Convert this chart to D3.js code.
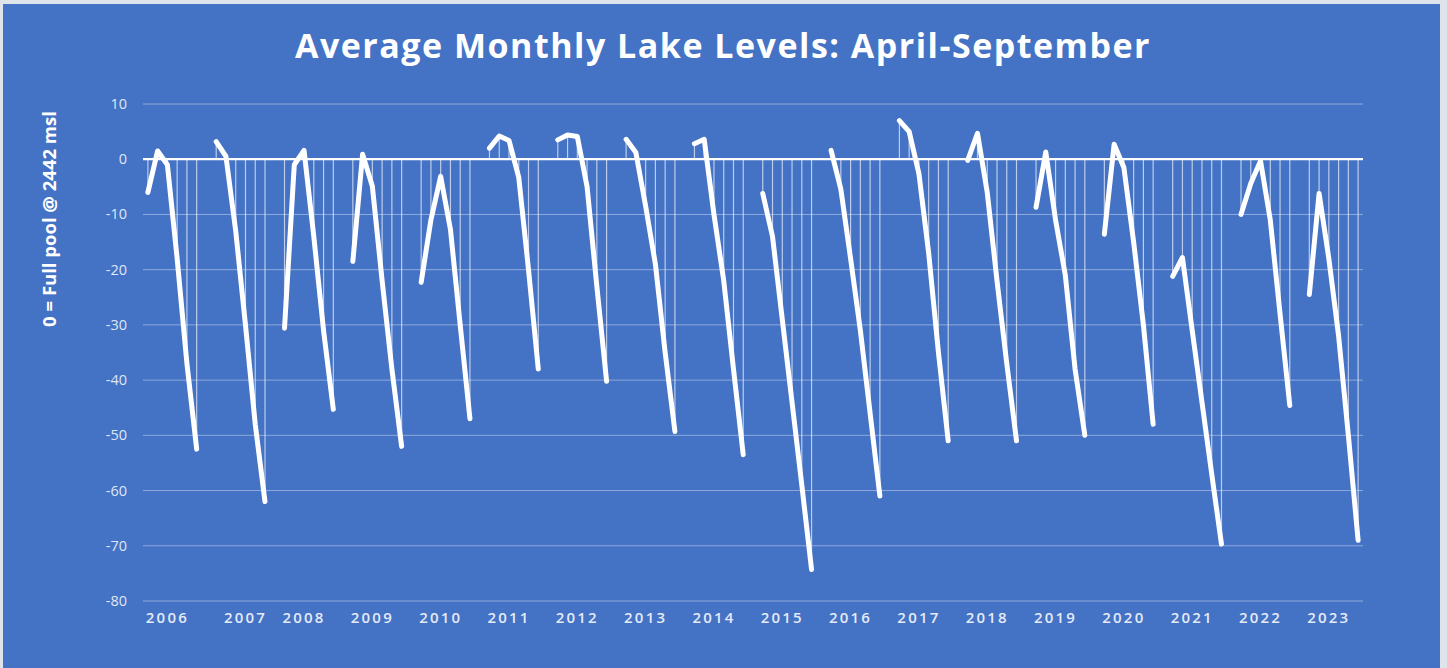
<!DOCTYPE html>
<html>
<head>
<meta charset="utf-8">
<script src="https://cdn.jsdelivr.net/npm/d3@7"></script>
<style>
  body { margin: 0; background: #dfe3ea; }
  svg { display: block; }
</style>
</head>
<body>
<script>
(function(){

//chart data: one row of April-September averages per year (feet below full pool)
var years = [2006, 2007, 2008, 2009, 2010, 2011, 2012, 2013, 2014,
             2015, 2016, 2017, 2018, 2019, 2020, 2021, 2022, 2023];

var months = ["Apr", "May", "Jun", "Jul", "Aug", "Sep"];

var levels = [
    [-6.0, 1.5, -1.0, -18.0, -37.0, -52.5],   //2006
    [3.2, 0.5, -13.0, -30.0, -48.0, -62.0],   //2007
    [-30.6, -1.0, 1.6, -14.0, -31.0, -45.3],  //2008
    [-18.5, 0.9, -4.9, -22.0, -38.0, -52.0],  //2009
    [-22.3, -11.0, -3.1, -12.7, -30.0, -47.0],//2010
    [2.0, 4.2, 3.4, -3.3, -20.0, -38.0],      //2011
    [3.5, 4.4, 4.1, -5.0, -23.0, -40.2],      //2012
    [3.6, 1.2, -8.5, -19.0, -35.0, -49.3],    //2013
    [2.8, 3.6, -10.0, -22.0, -38.0, -53.5],   //2014
    [-6.2, -14.0, -29.0, -44.0, -59.0, -74.3],//2015
    [1.6, -5.4, -18.0, -31.0, -46.0, -61.0],  //2016
    [7.0, 5.0, -2.6, -17.0, -35.0, -51.0],    //2017
    [-0.2, 4.7, -6.0, -22.0, -37.0, -51.0],   //2018
    [-8.7, 1.3, -11.0, -21.0, -38.0, -50.0],  //2019
    [-13.6, 2.7, -1.5, -15.0, -30.0, -48.0],  //2020
    [-21.2, -17.8, -31.0, -44.0, -57.0, -69.7],//2021
    [-10.0, -4.4, -0.3, -11.0, -28.0, -44.6], //2022
    [-24.5, -6.2, -18.0, -32.0, -50.0, -69.0] //2023
];

//month row on which each year's label sits
var labelSlot = [2, 3, 2, 2, 2, 2, 2, 2, 2, 2, 2, 2, 2, 2, 2, 2, 2, 2];

var yTicks = [10, 0, -10, -20, -30, -40, -50, -60, -70, -80];

var slotsPerYear = 7; //six months plus one empty separator slot

window.onload = drawChart();

function drawChart(){

    var width = 1447,
        height = 668;

    var svg = d3.select("body")
        .append("svg")
        .attr("width", width)
        .attr("height", height);

    //chart background
    svg.append("rect")
        .attr("x", 3)
        .attr("y", 4)
        .attr("width", 1437)
        .attr("height", 664)
        .attr("fill", "#4472c4");

    //category scale: 7 slots per year, last year without trailing gap
    var nSlots = years.length * slotsPerYear - 1;
    var x = d3.scaleBand()
        .domain(d3.range(nSlots))
        .range([143, 1363])
        .padding(0);

    var y = d3.scaleLinear()
        .domain([-80, 10])
        .range([601, 104]);

    function cx(yearIdx, monthIdx){
        return x(yearIdx * slotsPerYear + monthIdx) + x.bandwidth() / 2;
    };

    //title
    svg.append("text")
        .attr("x", 723)
        .attr("y", 58)
        .attr("text-anchor", "middle")
        .attr("fill", "#ffffff")
        .style("font-family", "'Open Sans', sans-serif")
        .style("font-weight", "700")
        .style("font-size", "34px")
        .style("letter-spacing", "1.5px")
        .text("Average Monthly Lake Levels: April-September");

    //y axis title
    svg.append("text")
        .attr("transform", "translate(56,219) rotate(-90)")
        .attr("text-anchor", "middle")
        .attr("fill", "#ffffff")
        .style("font-family", "'Open Sans', sans-serif")
        .style("font-weight", "700")
        .style("font-size", "18.5px")
        .text("0 = Full pool @ 2442 msl");

    //horizontal gridlines
    svg.selectAll(".grid")
        .data(yTicks.filter(function(d){ return d !== 0; }))
        .enter()
        .append("line")
        .attr("class", "grid")
        .attr("x1", 143)
        .attr("x2", 1363)
        .attr("y1", function(d){ return y(d); })
        .attr("y2", function(d){ return y(d); })
        .attr("stroke", "#8faadc")
        .attr("stroke-width", 1);

    //y tick labels
    svg.selectAll(".ytick")
        .data(yTicks)
        .enter()
        .append("text")
        .attr("class", "ytick")
        .attr("x", 127)
        .attr("y", function(d){ return y(d) + 5; })
        .attr("text-anchor", "end")
        .attr("fill", "#dfe6f4")
        .style("font-family", "'Open Sans', sans-serif")
        .style("font-size", "14.5px")
        .text(function(d){ return d; });

    //flatten points for drop lines
    var points = [];
    levels.forEach(function(row, i){
        row.forEach(function(v, m){
            points.push({year: i, month: m, value: v});
        });
    });

    //drop lines from each point to the zero axis
    svg.selectAll(".drop")
        .data(points)
        .enter()
        .append("line")
        .attr("class", "drop")
        .attr("x1", function(d){ return cx(d.year, d.month); })
        .attr("x2", function(d){ return cx(d.year, d.month); })
        .attr("y1", y(0))
        .attr("y2", function(d){ return y(d.value); })
        .attr("stroke", "#e4ebf7")
        .attr("stroke-opacity", 0.75)
        .attr("stroke-width", 1.2);

    //category axis line at zero
    svg.append("line")
        .attr("x1", 143)
        .attr("x2", 1363)
        .attr("y1", y(0))
        .attr("y2", y(0))
        .attr("stroke", "#ffffff")
        .attr("stroke-width", 2.2);

    //one line per season
    var line = d3.line()
        .x(function(d){ return d.x; })
        .y(function(d){ return y(d.value); });

    svg.selectAll(".season")
        .data(levels)
        .enter()
        .append("path")
        .attr("class", "season")
        .attr("d", function(row, i){
            return line(row.map(function(v, m){ return {x: cx(i, m), value: v}; }));
        })
        .attr("fill", "none")
        .attr("stroke", "#ffffff")
        .attr("stroke-width", 5)
        .attr("stroke-linecap", "round")
        .attr("stroke-linejoin", "round");

    //year labels along the bottom
    svg.selectAll(".xtick")
        .data(years)
        .enter()
        .append("text")
        .attr("class", "xtick")
        .attr("x", function(d, i){ return cx(i, labelSlot[i]); })
        .attr("y", 623)
        .attr("text-anchor", "middle")
        .attr("fill", "#e4ebf7")
        .style("font-family", "'Open Sans', sans-serif")
        .style("font-weight", "600")
        .style("font-size", "15px")
        .style("letter-spacing", "2.2px")
        .text(function(d){ return d; });
};

})();
</script>
</body>
</html>
